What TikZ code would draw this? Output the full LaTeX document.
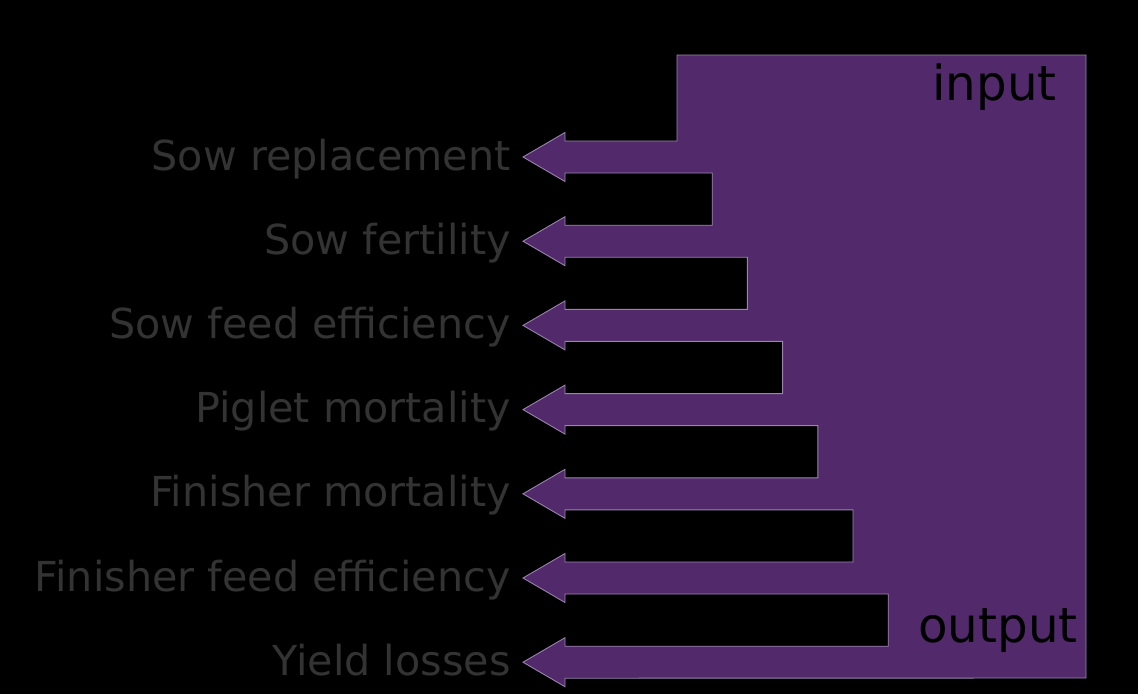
\documentclass[tikz,border=0pt]{standalone}
\usepackage{fontspec}
\setmainfont{DejaVu Sans}
\usetikzlibrary{positioning}
\definecolor{cpurple}{HTML}{52296A}
\definecolor{cedge}{HTML}{9A84AE}
\definecolor{ctext}{HTML}{333333}
\tikzset{
  every picture/.style={x=0.02cm, y=-0.02cm},
  flow/.style={fill=cpurple, draw=cedge, line width=0.5pt, line join=miter},
  factor/.style={anchor=base east, inner sep=0pt, text=ctext, font=\fontsize{23.5}{28}\selectfont},
  io/.style={anchor=base east, inner sep=0pt, text=black, font=\fontsize{27.5}{32}\selectfont},
}
\begin{document}
\begin{tikzpicture}
  \fill[black] (0,0) rectangle (1138,694);
  \useasboundingbox (0,0) rectangle (1138,694);
  % box with one arrow per factor, stepping right towards the bottom
  \draw[flow] (677,55) -- (1086,55) -- (1086,678)
    \foreach \k [evaluate=\k as \y using 157+84.2*\k,
                 evaluate=\k as \s using 677+35.2*\k] in {6,5,...,0} {
      -- (565,\y+16) -- (565,\y+24.5) -- (523,\y) -- (565,\y-24.5)
      -- (565,\y-16) -- (\s,\y-16) -- (\s,\y-68.2)
    } -- cycle;
  \node[io] (inp) at (1057,100) {input};
  \node[io] (outp) at (1078,642) {output};
  \foreach \k/\txt in {0/Sow replacement, 1/Sow fertility, 2/Sow feed efficiency,
      3/Piglet mortality, 4/Finisher mortality, 5/Finisher feed efficiency,
      6/Yield losses} {
    \node[factor] (f\k) at (511,{170+84.2*\k}) {\txt};
  }
\end{tikzpicture}
\end{document}
